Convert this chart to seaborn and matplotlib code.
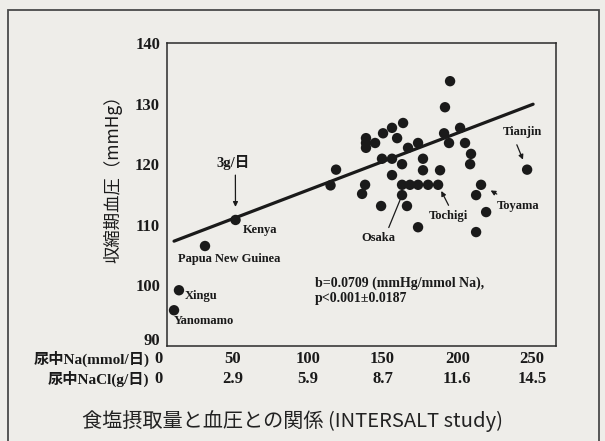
import matplotlib
matplotlib.use("Agg")
import matplotlib.pyplot as plt
import matplotlib.transforms as mtransforms
from matplotlib.patches import Rectangle
import seaborn as sns
import pandas as pd

# ---------------- data ----------------
names = ["Yanomamo", "Xingu", "Papua New Guinea", "Kenya",
         "Osaka", "Tochigi", "Toyama", "Tianjin"]
na = [10.7, 14.0, 31.4, 51.8, 163.1, 187.2, 215.9, 246.7,
      119.0, 115.3, 138.4, 136.4, 139.0, 139.0, 139.0, 145.1, 150.4, 156.4,
      163.8, 159.8, 167.1, 173.8, 149.7, 156.4, 163.1, 177.1, 177.1, 188.5,
      156.4, 163.1, 168.4, 173.8, 180.5, 149.1, 166.4, 173.8, 195.2, 191.8,
      191.2, 194.5, 201.9, 205.2, 209.2, 208.6, 212.6, 219.3, 212.6]
sbp = [95.9, 99.2, 106.5, 110.8, 114.9, 116.6, 116.6, 119.1,
       119.1, 116.5, 116.6, 115.1, 124.3, 123.5, 122.7, 123.5, 125.1, 126.0,
       126.8, 124.3, 122.7, 123.5, 120.9, 120.9, 120.0, 120.9, 119.0, 119.0,
       118.2, 116.6, 116.6, 116.6, 116.6, 113.1, 113.1, 109.6, 133.7, 129.4,
       125.1, 123.5, 126.0, 123.5, 121.7, 120.0, 114.9, 112.1, 108.8]
fit_na = [10.7, 250.7]
fit_sbp = [107.3, 129.9]
na_ticks = [0, 50, 100, 150, 200, 250]
nacl_labels = ["0", "2.9", "5.9", "8.7", "11.6", "14.5"]
y_ticks = [90, 100, 110, 120, 130, 140]

title = "食塩摂取量と血圧との関係 (INTERSALT study)"
ylabel = "収縮期血圧（mmHg）"
row1 = "尿中Na(mmol/日)"
row2 = "尿中NaCl(g/日)"
stats = "b=0.0709 (mmHg/mmol Na),\np<0.001±0.0187"

# ---------------- style ----------------
BG = "#eeede9"
INK = "#1a1a1a"
sns.set_theme(style="white")
plt.rcParams["font.family"] = ["Liberation Serif", "Noto Sans CJK JP"]
SERIF = ["Liberation Serif", "Noto Sans CJK JP"]
CJK = ["Noto Sans CJK JP", "DejaVu Sans"]

fig = plt.figure(figsize=(6.05, 4.41), dpi=100, facecolor=BG)
W, H = 605, 441
ax = fig.add_axes([167 / W, 1 - 346 / H, (556 - 167) / W, (346 - 43) / H])
ax.set_facecolor(BG)

df = pd.DataFrame({"na": na, "sbp": sbp})
fit = pd.DataFrame({"na": fit_na, "sbp": fit_sbp})

sns.lineplot(data=fit, x="na", y="sbp", ax=ax, color=INK, linewidth=2.3)
sns.scatterplot(data=df, x="na", y="sbp", ax=ax, color=INK, s=56,
                edgecolor="none", linewidth=0, zorder=3)

ax.set_xlim(6.0, 266.0)
ax.set_ylim(90, 140)
ax.set_xlabel("")
ax.set_ylabel(ylabel, family=CJK, fontsize=12.5, color=INK, va="center")
ax.yaxis.set_label_coords(-0.139, 0.564)

ax.set_yticks(y_ticks)
ax.set_yticklabels([str(v) for v in y_ticks], family=SERIF,
                   fontweight="bold", fontsize=12, color=INK)
ax.tick_params(axis="y", length=0, pad=5)
# lift the lowest label a little, as in the original
lowest = ax.get_yticklabels()[0]
lowest.set_transform(lowest.get_transform() +
                     mtransforms.ScaledTranslation(0, 5 / 72, fig.dpi_scale_trans))
ax.set_xticks([])
for sp in ax.spines.values():
    sp.set_color("#2a2a2a")
    sp.set_linewidth(1.1)

# x tick rows (two scales)
bt = mtransforms.blended_transform_factory(ax.transData, ax.transAxes)
for v, lab in zip(na_ticks, nacl_labels):
    ax.text(v, -0.042, str(v), transform=bt, ha="center", va="center",
            family=SERIF, fontweight="bold", fontsize=12, color=INK, clip_on=False)
    ax.text(v, -0.108, lab, transform=bt, ha="center", va="center",
            family=SERIF, fontweight="bold", fontsize=12, color=INK, clip_on=False)
ax.text(-5.6, -0.042, row1, transform=bt, ha="right", va="center",
        family=SERIF, fontweight="bold", fontsize=11, color=INK, clip_on=False)
ax.text(-5.6, -0.108, row2, transform=bt, ha="right", va="center",
        family=SERIF, fontweight="bold", fontsize=11, color=INK, clip_on=False)

# point labels
ann = dict(textcoords="offset pixels", family=SERIF, fontweight="bold",
           fontsize=9, color=INK, va="center")
def arrow(relpos, sa, sb, style="-|>"):
    return dict(arrowstyle=style, color=INK, lw=0.9, mutation_scale=7,
                relpos=relpos, shrinkA=sa, shrinkB=sb)

pts = {n: (na[i], sbp[i]) for i, n in enumerate(names)}
ax.annotate("Kenya", pts["Kenya"], xytext=(7, -10), ha="left", **ann)
ax.annotate("Papua New Guinea", pts["Papua New Guinea"], xytext=(24, -13), ha="center", **ann)
ax.annotate("Xingu", pts["Xingu"], xytext=(6, -5.5), ha="left", **ann)
ax.annotate("Yanomamo", pts["Yanomamo"], xytext=(0, -11), ha="left", **ann)
ax.annotate("Osaka", pts["Osaka"], xytext=(-24, -43), ha="center",
            arrowprops=arrow((0.76, 1.0), 1, 3, "-"), **ann)
ax.annotate("Tochigi", pts["Tochigi"], xytext=(10, -31), ha="center",
            arrowprops=arrow((0.57, 1.0), 1, 5), **ann)
ax.annotate("Toyama", pts["Toyama"], xytext=(37, -21), ha="center",
            arrowprops=arrow((0.23, 1.0), 3.5, 8), **ann)
ax.annotate("Tianjin", pts["Tianjin"], xytext=(-5, 38), ha="center",
            arrowprops=arrow((0.29, 0.0), 3, 7.8), **ann)
ax.annotate("3g/日", pts["Kenya"], xytext=(-2.5, 57), textcoords="offset pixels",
            ha="center", va="center", family=SERIF, fontweight="bold",
            fontsize=10.5, color=INK,
            arrowprops=arrow((0.57, 0.0), 1, 9.4))

ax.text(0.380, 0.183, stats, transform=ax.transAxes, ha="left", va="center",
        family=SERIF, fontweight="bold", fontsize=10, color=INK, linespacing=1.25)

# figure caption and outer frame
fig.text(293 / W, 1 - 421 / H, title, ha="center", va="center",
         family=CJK, fontsize=14.5, color="#222222")
fig.patches.append(Rectangle((8 / W, -0.05), (599 - 8) / W, 1.05 - 10 / H,
                             transform=fig.transFigure, fill=False,
                             edgecolor="#4a4a4a", linewidth=1.3))

fig.savefig("out.png", dpi=100, facecolor=BG)
